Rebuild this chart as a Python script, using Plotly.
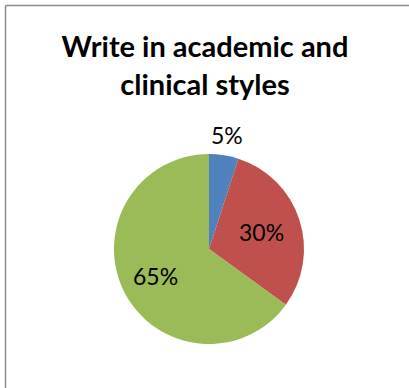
import math
import plotly.graph_objects as go

# Share of respondents per answer
categories = ["Strongly agree", "Agree", "Neutral"]
values = [5, 30, 65]
colors = ["#4F81BD", "#C0504D", "#9BBB59"]
# radial distance of each percentage label, as a fraction of the pie radius
label_radius = [1.22, 0.58, 0.63]

W, H = 409, 388
CX, CY, R = 209, 249, 95  # pie centre and radius in pixels

fig = go.Figure(
    go.Pie(
        labels=categories,
        values=values,
        sort=False,
        direction="clockwise",
        rotation=0,
        marker=dict(colors=colors, line=dict(width=0)),
        textinfo="none",
        domain=dict(x=[(CX - R) / W, (CX + R) / W], y=[1 - (CY + R) / H, 1 - (CY - R) / H]),
        showlegend=False,
        hoverinfo="label+percent",
    )
)

# percentage labels at each slice's mid-angle (clockwise from 12 o'clock)
total = sum(values)
annotations = []
start = 0.0
for v, rf in zip(values, label_radius):
    frac = v / total
    mid = 2 * math.pi * (start + frac / 2)
    start += frac
    px = CX + rf * R * math.sin(mid)
    py = CY - rf * R * math.cos(mid)
    annotations.append(dict(
        text=f"{round(frac * 100)}%",
        x=px / W, y=1 - py / H, xref="paper", yref="paper",
        xanchor="center", yanchor="middle", showarrow=False,
        font=dict(family="Lato", size=23, color="#000000"),
    ))

border = dict(color="#8C8C8C", width=1.5)
fig.update_layout(
    width=W,
    height=H,
    margin=dict(l=0, r=0, t=0, b=0),
    paper_bgcolor="#FFFFFF",
    plot_bgcolor="#FFFFFF",
    title=dict(
        text="Write in academic and<br>clinical styles",
        font=dict(family="Lato", size=29, color="#000000", weight="bold"),
        x=205 / W,
        xanchor="center",
        y=1 - 57 / H,
        yanchor="top",
    ),
    annotations=annotations,
    shapes=[
        dict(type="line", xref="paper", yref="paper",
             x0=5.5 / W, x1=5.5 / W, y0=0, y1=1 - 5.5 / H, line=border),
        dict(type="line", xref="paper", yref="paper",
             x0=5.5 / W, x1=1, y0=1 - 5.5 / H, y1=1 - 5.5 / H, line=border),
    ],
)

fig.write_html("out.html")
